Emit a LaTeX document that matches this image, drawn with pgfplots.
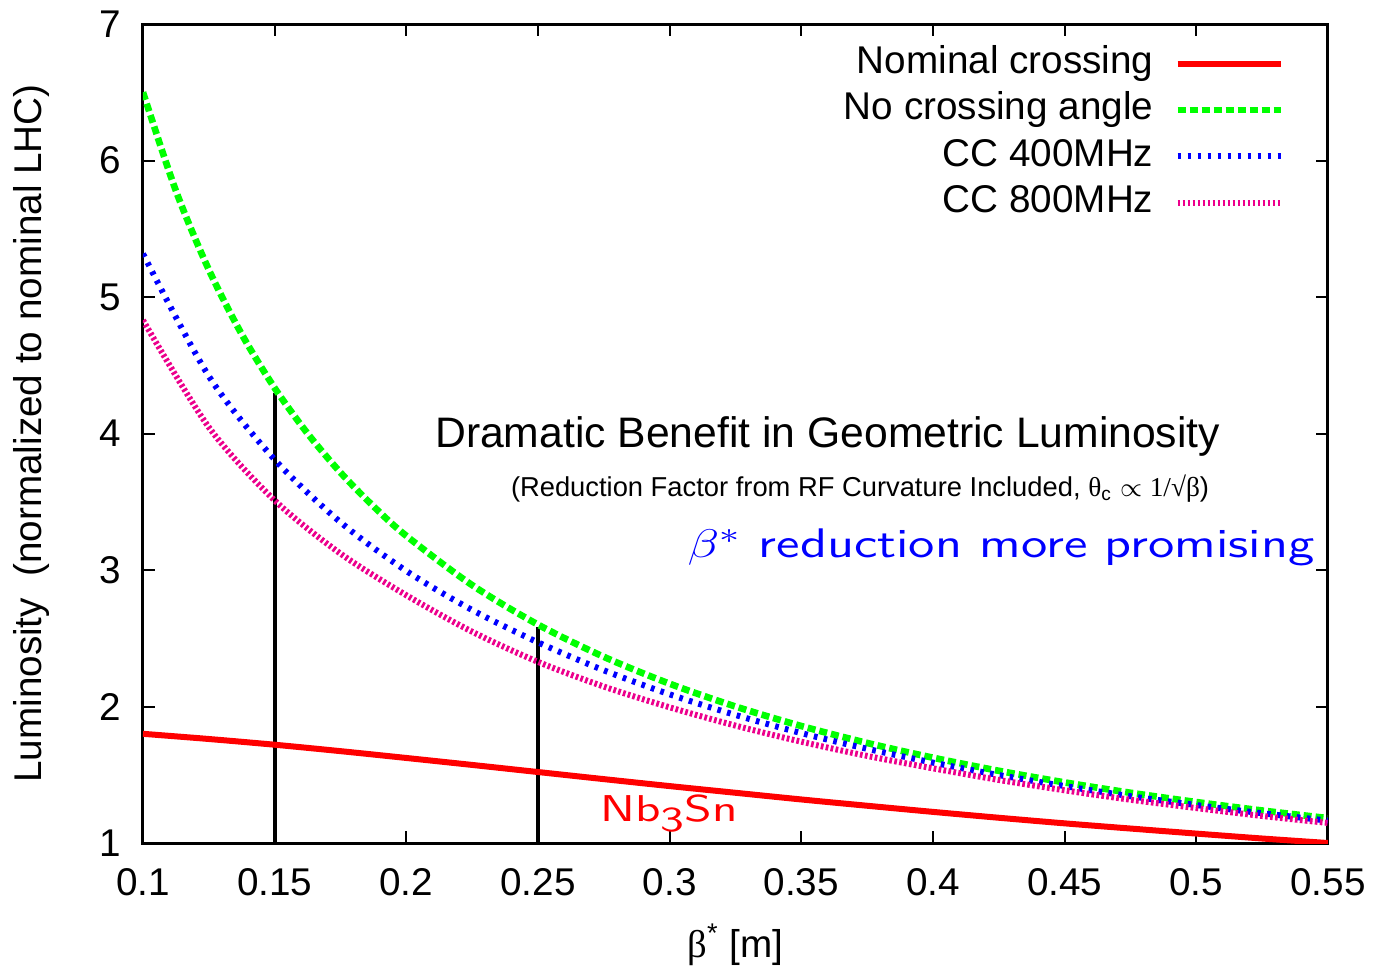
\documentclass[border=0pt]{standalone}
\usepackage{fontspec}
\setmainfont{Liberation Sans}
\newfontfamily\symfont{Liberation Serif}
\usepackage{graphicx}
\usepackage{pgfplots}
\pgfplotsset{compat=1.18}

\begin{document}
\begin{tikzpicture}
\begin{axis}[
    scale only axis,
    width=355.5pt, height=245.7pt,
    xmin=0.1, xmax=0.55, ymin=1, ymax=7,
    xtick={0.1,0.15,0.2,0.25,0.3,0.35,0.4,0.45,0.5,0.55},
    ytick={1,2,3,4,5,6,7},
    /pgf/number format/precision=2,
    /pgf/number format/assume math mode=true,
    tick align=inside,
    major tick length=3.6pt,
    axis line style={line width=0.9pt},
    tick style={black, line width=0.6pt},
    every tick label/.append style={font=\fontsize{11.6}{13}\selectfont},
    xticklabel style={yshift=-4pt},
    yticklabel style={xshift=-3pt},
    xlabel={{\symfont β}\textsuperscript{*} [m]},
    xlabel style={at={([yshift=-30.6pt]axis description cs:0.5,0)}, anchor=center, font=\fontsize{11.6}{13}\selectfont},
    ylabel={Luminosity\ \ (normalized to nominal LHC)},
    ylabel style={at={([xshift=-33.3pt]axis description cs:0,0.5)}, anchor=center, font=\fontsize{11.6}{13}\selectfont},
    legend plot pos=right,
    legend cell align=right,
    legend image code/.code={\draw[#1] (0pt,0pt) -- (31pt,0pt);},
    legend style={draw=none, fill=none, at={(axis cs:0.5337,6.862)}, anchor=north east,
        font=\fontsize{11.6}{13}\selectfont, row sep=1.9pt, column sep=6.3pt,
        inner sep=0pt, nodes={inner sep=0pt, text height=9pt, text depth=3pt}},
]
% markers for beta* = 0.15 and 0.25
\addplot[black, line width=1.2pt, forget plot] coordinates {(0.15,1) (0.15,4.30)};
\addplot[black, line width=1.2pt, forget plot] coordinates {(0.25,1) (0.25,2.58)};

\addplot[red, line width=1.8pt, smooth] coordinates {
(0.100,1.800) (0.125,1.762) (0.150,1.720) (0.175,1.673) (0.200,1.623)
(0.225,1.572) (0.250,1.520) (0.275,1.468) (0.300,1.417) (0.325,1.368)
(0.350,1.319) (0.375,1.273) (0.400,1.228) (0.425,1.185) (0.450,1.144)
(0.475,1.106) (0.500,1.069) (0.525,1.033) (0.550,1.000)};
\addlegendentry{Nominal crossing}

\addplot[green, line width=2pt, dash pattern=on 2.4pt off 1.2pt, smooth] coordinates {
(0.100,6.500) (0.1125,5.778) (0.125,5.200) (0.1375,4.727) (0.150,4.333) (0.1625,4.000)
(0.175,3.714) (0.1875,3.467) (0.200,3.250) (0.225,2.889) (0.250,2.600)
(0.275,2.364) (0.300,2.167) (0.325,2.000) (0.350,1.857) (0.375,1.733)
(0.400,1.625) (0.425,1.529) (0.450,1.444) (0.475,1.368) (0.500,1.300)
(0.525,1.238) (0.550,1.182)};
\addlegendentry{No crossing angle}

\addplot[blue, line width=1.8pt, dash pattern=on 1.1pt off 1.9pt, smooth] coordinates {
(0.100,5.317) (0.125,4.420) (0.150,3.809) (0.175,3.350) (0.200,2.993)
(0.225,2.707) (0.250,2.470) (0.275,2.265) (0.300,2.089) (0.325,1.938)
(0.350,1.805) (0.375,1.690) (0.400,1.589) (0.425,1.498) (0.450,1.417)
(0.475,1.343) (0.500,1.278) (0.525,1.218) (0.550,1.164)};
\addlegendentry{CC 400MHz}

\addplot[magenta, line width=1.8pt, dash pattern=on 0.8pt off 0.7pt, smooth] coordinates {
(0.100,4.830) (0.125,4.046) (0.150,3.510) (0.175,3.120) (0.200,2.815)
(0.225,2.548) (0.250,2.327) (0.275,2.146) (0.300,1.994) (0.325,1.860)
(0.350,1.742) (0.375,1.638) (0.400,1.547) (0.425,1.462) (0.450,1.386)
(0.475,1.317) (0.500,1.256) (0.525,1.198) (0.550,1.147)};
\addlegendentry{CC 800MHz}

\node[anchor=base, font=\fontsize{12.8}{15}\selectfont] at (axis cs:0.360,3.894)
    {Dramatic Benefit in Geometric Luminosity};
\node[anchor=base, font=\fontsize{8.2}{10}\selectfont] at (axis cs:0.3723,3.535)
    {(Reduction Factor from RF Curvature Included, {\symfont θ}\textsubscript{c} $\propto$ {\symfont 1/√β})};
\node[anchor=base east, blue, inner sep=0pt] at (axis cs:0.5451,3.088)
    {\scalebox{1.3}[1]{\fontsize{12.4}{14}\selectfont\sffamily $\beta^*$ reduction more promising}};
\node[anchor=base, red, inner sep=0pt] at (axis cs:0.2998,1.154)
    {\scalebox{1.36}[1]{\fontsize{11.2}{13}\selectfont\sffamily Nb\raisebox{-3pt}{\fontsize{10.5}{12}\selectfont 3}Sn}};
\end{axis}
\pgfresetboundingbox
\path (current axis.south west) ++(-42.9pt,-36.9pt) rectangle ++(412.5pt,289.8pt);
\end{tikzpicture}
\end{document}
